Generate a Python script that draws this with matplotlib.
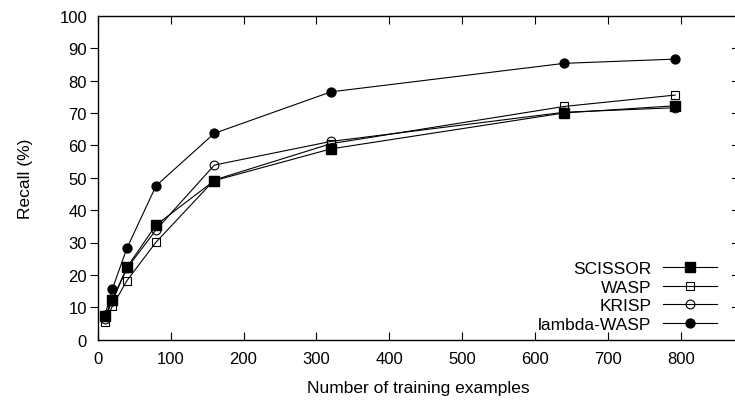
import matplotlib
matplotlib.use("Agg")
import matplotlib.pyplot as plt

plt.rcParams['font.family'] = ['Liberation Sans', 'DejaVu Sans']

x_examples = [10, 20, 40, 80, 160, 320, 640, 792]
scissor = [7.2, 12.3, 22.3, 35.4, 49.1, 58.9, 70.0, 72.2]
wasp = [5.6, 10.3, 18.2, 30.1, 49.3, 60.5, 72.0, 75.5]
krisp = [6.5, 12.0, 22.0, 33.9, 53.9, 61.2, 70.2, 71.6]
lambda_wasp = [7.5, 15.6, 28.2, 47.5, 63.7, 76.5, 85.3, 86.6]
series_names = ["SCISSOR", "WASP", "KRISP", "lambda-WASP"]
xticks = [0, 100, 200, 300, 400, 500, 600, 700, 800]
yticks = [0, 10, 20, 30, 40, 50, 60, 70, 80, 90, 100]

W, H = 735, 402
fig = plt.figure(figsize=(W / 100, H / 100), dpi=100)
left, right, top, bottom = 97.7, 739.3, 16.7, 340.7
ax = fig.add_axes([left / W, (H - bottom) / H, (right - left) / W, (bottom - top) / H])

lw = 0.8
ax.plot(x_examples, scissor, color='black', lw=lw, marker='s', ms=6.5,
        mfc='black', mec='black', label=series_names[0])
ax.plot(x_examples, wasp, color='black', lw=lw, marker='s', ms=6.2,
        mfc='none', mec='black', mew=0.8, label=series_names[1])
ax.plot(x_examples, krisp, color='black', lw=lw, marker='o', ms=6.3,
        mfc='none', mec='black', mew=0.8, label=series_names[2])
ax.plot(x_examples, lambda_wasp, color='black', lw=lw, marker='o', ms=6.4,
        mfc='black', mec='black', label=series_names[3])

ax.set_xlim(0, 880)
ax.set_ylim(0, 100)
ax.set_xticks(xticks)
ax.set_yticks(yticks)
ax.tick_params(axis='both', labelsize=12, width=0.8, length=5.5, color='black')
ax.tick_params(axis='x', direction='in', top=True, pad=8)
ax.tick_params(axis='y', direction='out', left=True, right=False, pad=2.2)
# hide left ticks at 0 and 100 (coincide with corners)
yt = ax.yaxis.get_major_ticks()
yt[0].tick1line.set_visible(False)
yt[-1].tick1line.set_visible(False)
# right mirrored inward ticks
for v in yticks[1:-1]:
    ax.plot([869.6, 880], [v, v], color='black', lw=0.8, clip_on=False)

for s in ax.spines.values():
    s.set_linewidth(1.0)

ax.set_xlabel("Number of training examples", fontsize=12.5, labelpad=10)
ax.set_ylabel("Recall (%)", fontsize=12.5, labelpad=19)

leg = ax.legend(loc='lower right', markerfirst=False, frameon=False,
                fontsize=12.5, handlelength=3.1, handletextpad=0.65,
                labelspacing=0.19, borderpad=0, borderaxespad=0,
                bbox_to_anchor=(0.9648, 0.0248))

fig.savefig("out.png", dpi=100)
